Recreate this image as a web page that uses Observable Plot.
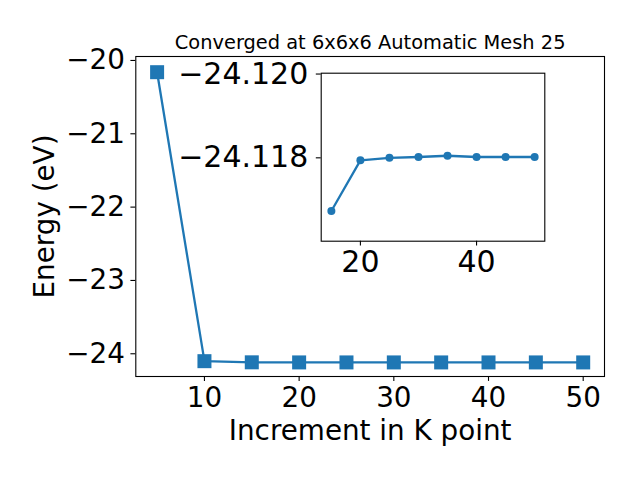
<!DOCTYPE html>
<html>
<head>
<meta charset="utf-8">
<script src="https://cdn.jsdelivr.net/npm/d3@7"></script>
<script src="https://cdn.jsdelivr.net/npm/@observablehq/plot@0.6"></script>
<style>
  html, body { margin: 0; padding: 0; background: white; }
  #wrap { position: relative; width: 640px; height: 480px; background: white; }
  #wrap svg { position: absolute; left: 0; top: 0; overflow: visible; }
</style>
</head>
<body>
<div id="wrap"></div>
<script>
// ---- data ----
const kpoints = [5, 10, 15, 20, 25, 30, 35, 40, 45, 50];
const energy = [-20.160, -24.101, -24.11673, -24.11794, -24.11800, -24.11802, -24.11805, -24.11802, -24.11802, -24.11802];
const mainXTicks = [10, 20, 30, 40, 50];
const mainYTicks = [-24, -23, -22, -21, -20];
const insetStart = 2; // inset shows from k = 15
const insetXTicks = [20, 40];
const insetYTicks = [-24.120, -24.118];
const titleText = "Converged at 6x6x6 Automatic Mesh 25";
const xLabel = "Increment in K point";
const yLabel = "Energy (eV)";

const blue = "#1f77b4";
const font = "DejaVu Sans";
const rows = kpoints.map((k, i) => ({k, e: energy[i]}));
const insetRows = rows.slice(insetStart);
const minus = s => s.replace(/-/g, "\u2212");

const main = Plot.plot({
  width: 640, height: 480,
  marginLeft: 135.3, marginRight: 36, marginTop: 56, marginBottom: 104,
  style: {fontFamily: font, fontSize: "27.8px", color: "black", background: "white", overflow: "visible"},
  x: {domain: [2.75, 52.25]},
  y: {domain: [-24.31, -19.946]},
  marks: [
    Plot.axisX({ticks: mainXTicks, tickSize: 4.9, tickPadding: 6, label: null, tickFormat: d => minus(String(d)), strokeWidth: 1.1}),
    Plot.axisY({ticks: mainYTicks, tickSize: 4.9, tickPadding: 6, label: null, tickFormat: d => minus(String(d)), strokeWidth: 1.1}),
    Plot.line(rows, {x: "k", y: "e", stroke: blue, strokeWidth: 2.3}),
    Plot.dot(rows, {x: "k", y: "e", symbol: "square", r: 7.9, fill: blue, stroke: "none"}),
    Plot.frame({stroke: "black", strokeWidth: 1.1}),
    Plot.text([titleText], {frameAnchor: "top", dy: -13.8, lineAnchor: "middle", textAnchor: "middle", fontSize: 19.4, fill: "black"}),
    Plot.text([xLabel], {frameAnchor: "bottom", dy: 55, lineAnchor: "middle", textAnchor: "middle", fontSize: 27.8, fill: "black"}),
    Plot.text([yLabel], {frameAnchor: "left", dx: -90.8, rotate: -90, lineAnchor: "middle", textAnchor: "middle", fontSize: 27.8, fill: "black"})
  ]
});

const inset = Plot.plot({
  width: 640, height: 480,
  marginLeft: 320.7, marginRight: 95.7, marginTop: 72.7, marginBottom: 239.3,
  style: {fontFamily: font, fontSize: "30px", color: "black", background: "transparent", overflow: "visible"},
  x: {domain: [13.25, 51.75]},
  y: {domain: [-24.12002, -24.11601], reverse: true},
  marks: [
    Plot.frame({fill: "white", stroke: "none"}),
    Plot.axisX({ticks: insetXTicks, tickSize: 4.9, tickPadding: 5, label: null, tickFormat: d => minus(String(d)), strokeWidth: 1.1}),
    Plot.axisY({ticks: insetYTicks, tickSize: 4.9, tickPadding: 8, label: null, tickFormat: d3.format(".3f"), strokeWidth: 1.1}),
    Plot.line(insetRows, {x: "k", y: "e", stroke: blue, strokeWidth: 2.3}),
    Plot.dot(insetRows, {x: "k", y: "e", r: 4, fill: blue, stroke: "none"}),
    Plot.frame({stroke: "black", strokeWidth: 1.1})
  ]
});
inset.style.pointerEvents = "none";

const wrap = document.getElementById("wrap");
wrap.appendChild(main);
wrap.appendChild(inset);
</script>
</body>
</html>
